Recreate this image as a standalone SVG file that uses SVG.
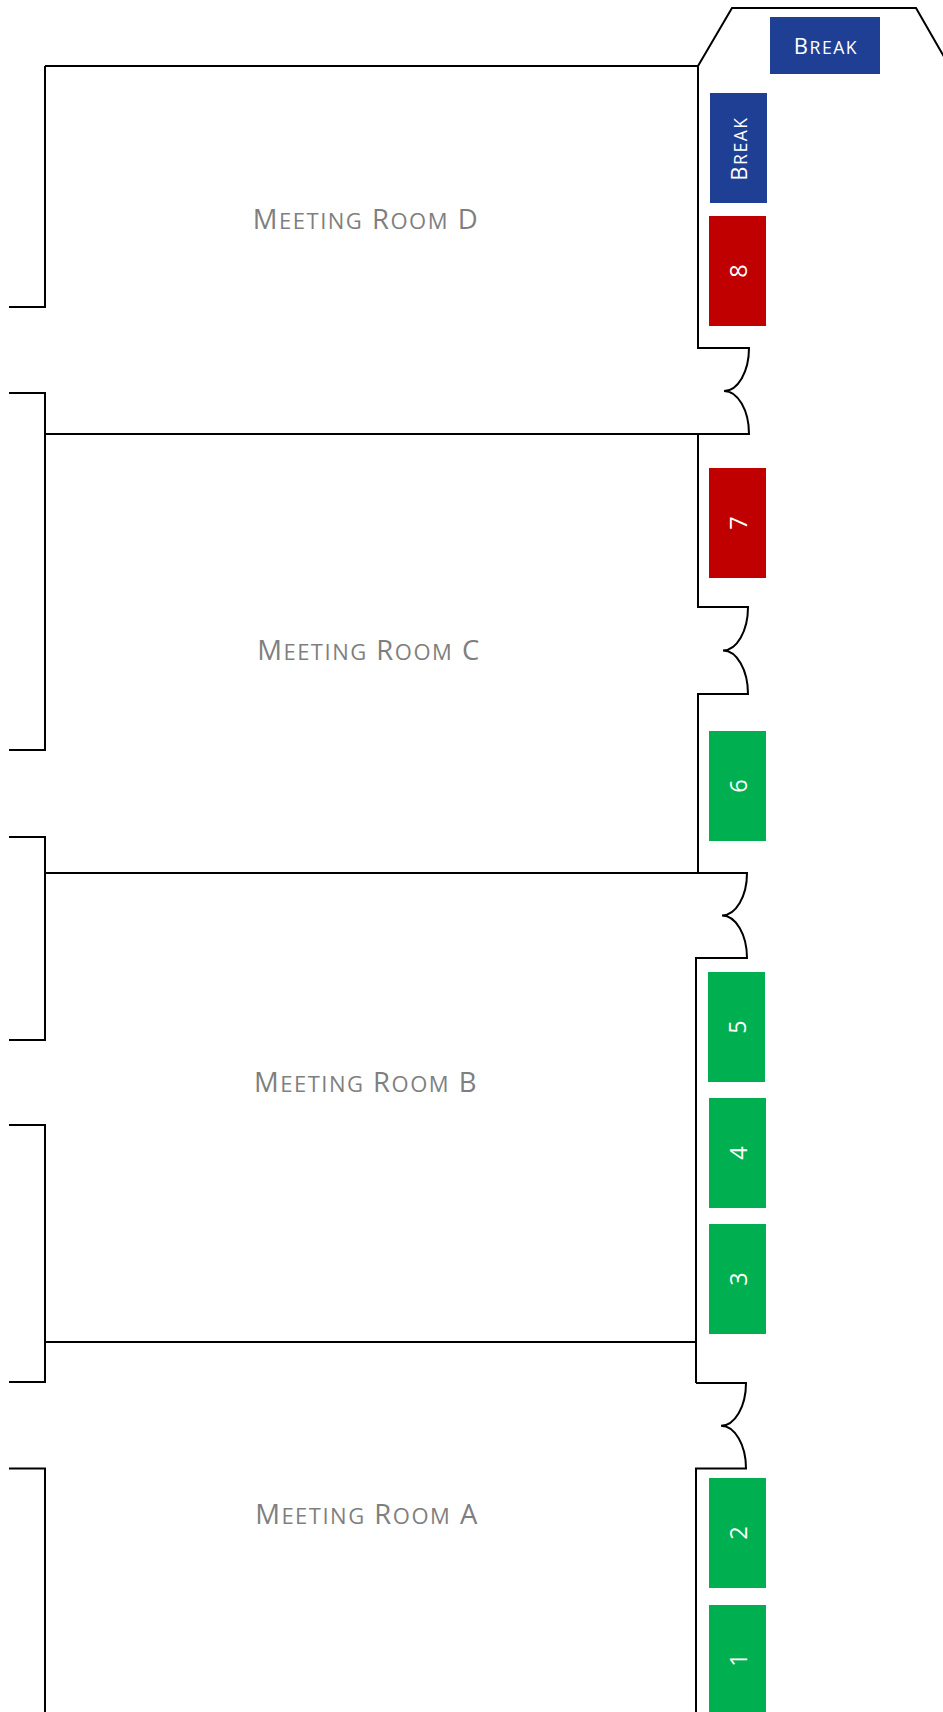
<svg xmlns="http://www.w3.org/2000/svg" width="943" height="1712" viewBox="0 0 943 1712">
<style>
.wall{fill:none;stroke:#000;stroke-width:2;stroke-linejoin:miter}
.room{font-family:"Open Sans","Liberation Sans",sans-serif;font-size:27.5px;fill:#7F7F7F;text-anchor:middle;letter-spacing:1.5px}
.room .sc{font-size:22px}
.blue{fill:#1F3F94}
.red{fill:#C00000}
.green{fill:#00B050}
.lbl{font-family:"Open Sans","Liberation Sans",sans-serif;font-size:23.5px;fill:#FFFFFF;text-anchor:middle}
.brk{font-size:22px;letter-spacing:1.5px}
.brk .sc{font-size:17.6px}
</style>
<rect width="943" height="1712" fill="#FFFFFF"/>
<g id="walls" class="wall">
  <path d="M698,66 L732,8 L916,8 L947,62"/>
  <path d="M45,66 H698 V348 H749 A25,43 0 0 1 724,391 A25,43 0 0 1 749,434 H45"/>
  <path d="M45,66 V307 H9"/>
  <path d="M9,393 H45 V750 H9"/>
  <path d="M698,434 V607 H748 A25,43.5 0 0 1 723,650.5 A25,43.5 0 0 1 748,694 H698 V873"/>
  <path d="M45,873 H697 H747 A25,42.5 0 0 1 722,915.5 A25,42.5 0 0 1 747,958 H696 V1383"/>
  <path d="M9,837 H45 V1040 H9"/>
  <path d="M9,1125 H45 V1382 H9"/>
  <path d="M45,1342 H696"/>
  <path d="M696,1383 H746 A25,42.75 0 0 1 721,1425.75 A25,42.75 0 0 1 746,1468.5 H696 V1712"/>
  <path d="M9,1468.5 H45 V1712"/>
</g>
<g id="room-d"><text class="room" x="366" y="229">M<tspan class="sc">EETING</tspan> R<tspan class="sc">OOM</tspan> D</text></g>
<g id="room-c"><text class="room" x="369" y="660">M<tspan class="sc">EETING</tspan> R<tspan class="sc">OOM</tspan> C</text></g>
<g id="room-b"><text class="room" x="366" y="1092">M<tspan class="sc">EETING</tspan> R<tspan class="sc">OOM</tspan> B</text></g>
<g id="room-a"><text class="room" x="367" y="1524">M<tspan class="sc">EETING</tspan> R<tspan class="sc">OOM</tspan> A</text></g>
<g id="break-top"><rect class="blue" x="770" y="17" width="110" height="57"/><text class="lbl brk" x="826" y="54">B<tspan class="sc">REAK</tspan></text></g>
<g id="break-side"><rect class="blue" x="710" y="93" width="57" height="110"/><text class="lbl brk" transform="translate(746.5,148.5) rotate(-90)">B<tspan class="sc">REAK</tspan></text></g>
<g id="booth-8"><rect class="red" x="709" y="216" width="57" height="110"/><text class="lbl" transform="translate(746.5,271) rotate(-90)">8</text></g>
<g id="booth-7"><rect class="red" x="709" y="468" width="57" height="110"/><text class="lbl" transform="translate(746.5,523) rotate(-90)">7</text></g>
<g id="booth-6"><rect class="green" x="709" y="731" width="57" height="110"/><text class="lbl" transform="translate(746.5,786) rotate(-90)">6</text></g>
<g id="booth-5"><rect class="green" x="708" y="972" width="57" height="110"/><text class="lbl" transform="translate(745.5,1027) rotate(-90)">5</text></g>
<g id="booth-4"><rect class="green" x="709" y="1098" width="57" height="110"/><text class="lbl" transform="translate(746.5,1153) rotate(-90)">4</text></g>
<g id="booth-3"><rect class="green" x="709" y="1224" width="57" height="110"/><text class="lbl" transform="translate(746.5,1279) rotate(-90)">3</text></g>
<g id="booth-2"><rect class="green" x="709" y="1478" width="57" height="110"/><text class="lbl" transform="translate(746.5,1533) rotate(-90)">2</text></g>
<g id="booth-1"><rect class="green" x="709" y="1605" width="57" height="110"/><text class="lbl" transform="translate(746.5,1660) rotate(-90)">1</text></g>
</svg>
